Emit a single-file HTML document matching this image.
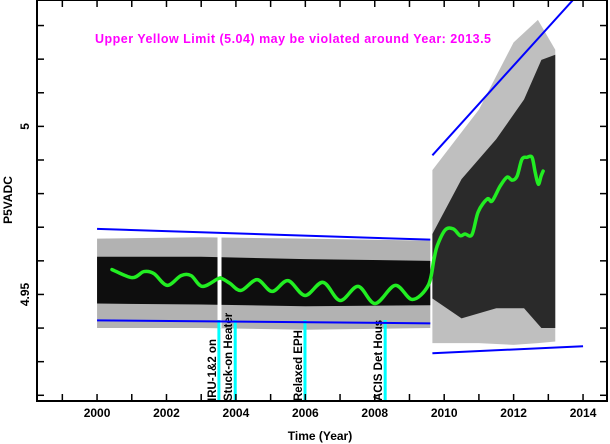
<!DOCTYPE html>
<html><head><meta charset="utf-8">
<style>
html,body{margin:0;padding:0;background:#fff;}
svg{display:block;font-family:"Liberation Sans",sans-serif;font-weight:bold;}
</style></head>
<body>
<svg id="chart" width="610" height="444" viewBox="0 0 610 444" xmlns="http://www.w3.org/2000/svg">
<defs><clipPath id="plotclip"><rect x="37" y="0" width="570" height="401"/></clipPath>
<clipPath id="evclip"><rect x="150" y="312" width="300" height="89"/></clipPath></defs>
<g id="plot" clip-path="url(#plotclip)"></g>
<g id="axes"></g>
<text x="95" y="43" fill="#ff00ff" font-size="12.5" textLength="396">Upper Yellow  Limit (5.04) may be violated around Year: 2013.5</text>
<text x="320" y="440" text-anchor="middle" font-size="12">Time (Year)</text>
<text transform="translate(12,200) rotate(-90)" text-anchor="middle" font-size="12">P5VADC</text>
</svg>
<script>
// ---- data ----
const trendYears=[2000.43,2001.01,2001.35,2001.64,2002.02,2002.42,2002.71,2003.03,2003.49,2003.60,2003.83,2004.15,2004.61,2005.04,2005.50,2005.99,2006.51,2007.00,2007.52,2008.01,2008.59,2009.08,2009.54,2009.71,2009.80,2010.03,2010.26,2010.46,2010.60,2010.80,2010.98,2011.24,2011.38,2011.61,2011.81,2011.96,2012.10,2012.24,2012.39,2012.53,2012.62,2012.71,2012.79,2012.85];
const trendValues=[4.9574,4.9550,4.9568,4.9562,4.9527,4.9556,4.9556,4.9524,4.9547,4.9547,4.9533,4.9512,4.9544,4.9509,4.9541,4.9497,4.9536,4.9482,4.9524,4.9473,4.9527,4.9485,4.9527,4.9607,4.9645,4.9692,4.9695,4.9675,4.9680,4.9678,4.9746,4.9784,4.9778,4.9822,4.9849,4.9840,4.9852,4.9902,4.9908,4.9908,4.9864,4.9828,4.9852,4.9867];
const denseYears=[2000.0,2003.0,2006.0,2009.6,2009.66,2010.5,2011.5,2012.3,2012.8,2013.2];
const denseHi=[4.9612,4.9612,4.9605,4.9600,4.9680,4.9843,4.9962,5.0080,5.0198,5.0213];
const denseLo=[4.9473,4.9470,4.9465,4.9468,4.9488,4.9429,4.9459,4.9459,4.9400,4.9400];
const sparseYears=[2000.0,2003.0,2006.0,2009.6,2009.66,2011.0,2012.0,2012.7,2013.2];
const sparseHi=[4.9666,4.9670,4.9666,4.9660,4.9870,5.0050,5.0250,5.0317,5.0228];
const sparseLo=[4.9400,4.9400,4.9395,4.9400,4.9355,4.9355,4.9350,4.9355,4.9360];
const limitLines=[[2000.0,4.9695,2009.6,4.9663],[2000.0,4.9423,2009.6,4.9414],[2009.66,4.9914,2013.71,5.0376],[2009.66,4.9325,2014.0,4.9346]];
const eventYears=[2003.51,2003.98,2005.99,2008.30];
const eventLabels=["IRU-1&2 on","Stuck-on Heater","Relaxed EPH","ACIS Det Hous"];
const xTicks=[2000,2002,2004,2006,2008,2010,2012,2014];
const yTicks=[4.95,5];
// ---- scales ----
const X0=37,X1=607,Y0=0,Y1=401,xmin=1998.27,xmax=2014.69,ymax=5.0376,ymin=4.9183;
const sx=v=>X0+(v-xmin)/(xmax-xmin)*(X1-X0);
const sy=v=>Y0+(ymax-v)/(ymax-ymin)*(Y1-Y0);
const NS="http://www.w3.org/2000/svg";
const plot=document.getElementById('plot'),axes=document.getElementById('axes');
function mk(t,p,a){const e=document.createElementNS(NS,t);for(const k in a)e.setAttribute(k,a[k]);p.appendChild(e);return e;}
function band(ys,hi,lo,op,name){
  let pts=ys.map((y,i)=>sx(y)+','+sy(hi[i]));
  for(let i=ys.length-1;i>=0;i--)pts.push(sx(ys[i])+','+sy(lo[i]));
  const e=mk('polygon',plot,{points:pts.join(' '),fill:'#000','fill-opacity':op});
  
  
}
band(sparseYears.slice(0,4),sparseHi.slice(0,4),sparseLo.slice(0,4),0.3,'data-scatter-sparse-early');
band(sparseYears.slice(4),sparseHi.slice(4),sparseLo.slice(4),0.25,'data-scatter-sparse-late');
band(denseYears.slice(0,4),denseHi.slice(0,4),denseLo.slice(0,4),0.92,'data-scatter-dense-early');
band(denseYears.slice(4),denseHi.slice(4),denseLo.slice(4),0.78,'data-scatter-dense-late');
const gap=mk('rect',plot,{x:sx(2003.47),y:sy(4.97),width:4,height:sy(4.94)-sy(4.97),fill:'#fff'});


eventYears.forEach((yr,i)=>{
  const x=sx(yr);
  const l=mk('line',plot,{x1:x,x2:x,y1:320,y2:401,stroke:'#00ffff','stroke-width':3});
  
  
  const g=mk('g',plot,{'clip-path':'url(#evclip)'});
  const t=mk('text',g,{transform:`translate(${x-3},401) rotate(-90)`,'font-size':'11.5',fill:'#000'});
  t.textContent=eventLabels[i];
  
  
});
limitLines.forEach((L,i)=>{
  const e=mk('line',plot,{x1:sx(L[0]),y1:sy(L[1]),x2:sx(L[2]),y2:sy(L[3]),stroke:'#0000ff','stroke-width':2});
  
  
});
// smooth trend (Catmull-Rom)
const P=trendYears.map((y,i)=>[sx(y),sy(trendValues[i])]);
let d='M'+P[0][0]+','+P[0][1];
for(let i=0;i<P.length-1;i++){
  const p0=P[Math.max(0,i-1)],p1=P[i],p2=P[i+1],p3=P[Math.min(P.length-1,i+2)];
  const c1=[p1[0]+(p2[0]-p0[0])/6,p1[1]+(p2[1]-p0[1])/6];
  const c2=[p2[0]-(p3[0]-p1[0])/6,p2[1]-(p3[1]-p1[1])/6];
  d+=` C${c1[0]},${c1[1]} ${c2[0]},${c2[1]} ${p2[0]},${p2[1]}`;
}
const tr=mk('path',plot,{d:d,fill:'none',stroke:'#22ee22','stroke-width':3.5,'stroke-linejoin':'round','stroke-linecap':'round'});


// axes
const fr=mk('rect',axes,{x:X0,y:Y0,width:X1-X0,height:Y1-Y0,fill:'none',stroke:'#000','stroke-width':2});


for(let yr=1999;yr<=2014;yr++){const x=sx(yr);mk('line',axes,{x1:x,x2:x,y1:Y1,y2:Y1-7,stroke:'#000','stroke-width':1.5});mk('line',axes,{x1:x,x2:x,y1:Y0,y2:Y0+7,stroke:'#000','stroke-width':1.5});}
for(let k=492;k<=503;k++){const y=sy(k/100);mk('line',axes,{x1:X0,x2:X0+7,y1:y,y2:y,stroke:'#000','stroke-width':1.5});mk('line',axes,{x1:X1,x2:X1-7,y1:y,y2:y,stroke:'#000','stroke-width':1.5});}
xTicks.forEach(v=>{const t=mk('text',axes,{x:sx(v),y:417,'text-anchor':'middle','font-size':'12'});t.textContent=v;
  
  });
yTicks.forEach(v=>{const t=mk('text',axes,{transform:`translate(29,${sy(v)}) rotate(-90)`,'text-anchor':'middle','font-size':'12'});t.textContent=String(v);
  
  });
</script>
</body></html>
